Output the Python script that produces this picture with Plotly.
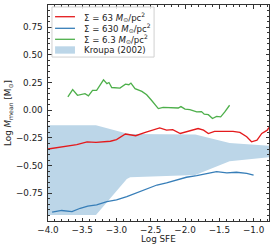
import plotly.graph_objects as go

# Kroupa (2002) band
band_x = [-4.0, -3.3, -2.85, -2.8, -1.85, -1.35, -0.775]
band_upper = [-0.135, -0.135, -0.21, -0.215, -0.22, -0.295, -0.32]
band_lower = [-0.945, -0.945, -0.62, -0.605, -0.585, -0.46, -0.425]

# Sigma = 63
red_x = [-4.0, -3.58, -3.43, -3.37, -3.3, -3.09, -3.0, -2.87, -2.78, -2.72, -2.58, -2.49,
         -2.37, -2.27, -2.18, -2.07, -1.98, -1.88, -1.81, -1.73, -1.66, -1.57, -1.45,
         -1.30, -1.2, -1.10, -1.03, -0.95, -0.88, -0.80, -0.775]
red_y = [-0.35, -0.31, -0.285, -0.29, -0.29, -0.28, -0.265, -0.215, -0.22, -0.23, -0.20, -0.18,
         -0.16, -0.18, -0.175, -0.21, -0.195, -0.18, -0.165, -0.18, -0.21, -0.19, -0.19,
         -0.19, -0.2, -0.24, -0.285, -0.27, -0.21, -0.18, -0.155]

# Sigma = 630
blue_x = [-3.94, -3.80, -3.65, -3.53, -3.42, -3.29, -3.14, -3.0, -2.85, -2.70, -2.56, -2.41,
          -2.27, -2.12, -1.98, -1.83, -1.69, -1.54, -1.39, -1.25, -1.10, -1.0]
blue_y = [-0.92, -0.905, -0.915, -0.885, -0.865, -0.855, -0.825, -0.81, -0.78, -0.745, -0.715,
          -0.675, -0.655, -0.63, -0.605, -0.59, -0.57, -0.555, -0.565, -0.56, -0.57, -0.585]

# Sigma = 6.3
green_x = [-3.71, -3.64, -3.57, -3.46, -3.41, -3.35, -3.29, -3.19, -3.14, -3.11, -3.07, -2.95,
           -2.87, -2.82, -2.79, -2.73, -2.63, -2.56, -2.49, -2.39, -2.32, -2.22, -2.10, -2.06,
           -2.0, -1.93, -1.83, -1.76, -1.72, -1.66, -1.60, -1.54, -1.48, -1.42, -1.35]
green_y = [0.12, 0.186, 0.135, 0.15, 0.13, 0.18, 0.18, 0.275, 0.24, 0.25, 0.205, 0.20,
           0.235, 0.23, 0.245, 0.195, 0.17, 0.14, 0.09, 0.015, 0.025, 0.02, 0.02, 0.033,
           0.01, 0.005, -0.015, -0.012, -0.036, -0.04, -0.075, -0.055, -0.06, -0.015, 0.045]

x_ticks = [-4.0, -3.5, -3.0, -2.5, -2.0, -1.5, -1.0]
y_ticks = [-0.75, -0.5, -0.25, 0.0, 0.25, 0.5, 0.75]

names = ["Σ = 63 <i>M</i><sub>⊙</sub>/pc<sup>2</sup>",
         "Σ = 630 <i>M</i><sub>⊙</sub>/pc<sup>2</sup>",
         "Σ = 6.3 <i>M</i><sub>⊙</sub>/pc<sup>2</sup>",
         "Kroupa (2002)"]
colors = ["#e41a1c", "#377eb8", "#4daf4a", "#bcd6e8"]

FONT = "DejaVu Sans"
TXT = "#222"
fig = go.Figure()

fig.add_trace(go.Scatter(x=band_x, y=band_lower, mode="lines", line=dict(width=0),
                         showlegend=False, hoverinfo="skip"))
fig.add_trace(go.Scatter(x=band_x, y=band_upper, mode="lines", line=dict(width=0),
                         fill="tonexty", fillcolor=colors[3], name=names[3], showlegend=False))
for xs, ys, nm, c in [(red_x, red_y, names[0], colors[0]),
                      (blue_x, blue_y, names[1], colors[1]),
                      (green_x, green_y, names[2], colors[2])]:
    fig.add_trace(go.Scatter(x=xs, y=ys, mode="lines", line=dict(color=c, width=1.3),
                             name=nm, showlegend=False))

axis_common = dict(
    showgrid=False, zeroline=False, showline=True, linecolor="#333", linewidth=1,
    mirror="allticks", ticks="inside", ticklen=3.5, tickwidth=0.8, tickcolor="#333",
    tickfont=dict(family=FONT, size=8.8, color=TXT),
)

fig.update_xaxes(range=[-4.0, -0.775], tickmode="array", tickvals=x_ticks,
                 ticktext=[f"{v:.1f}".replace("-", "−") for v in x_ticks],
                 minor=dict(ticks="inside", dtick=0.1, tick0=-4.0, ticklen=2, tickcolor="#333"),
                 **axis_common)
fig.update_yaxes(range=[-1.0, 0.95], tickmode="array", tickvals=y_ticks,
                 showticklabels=False,
                 minor=dict(ticks="inside", dtick=0.05, tick0=0, ticklen=2, tickcolor="#333"),
                 **axis_common)

# y tick labels
for v in y_ticks:
    fig.add_annotation(text=f"{v:.2f}".replace("-", "−"), xref="paper", yref="y", x=0, y=v,
                       xanchor="right", yanchor="middle", xshift=-3, showarrow=False,
                       font=dict(family=FONT, size=8.8, color=TXT))

fig.add_annotation(text="Log SFE", xref="paper", yref="paper", x=0.5, y=-0.083,
                   xanchor="center", yanchor="middle", showarrow=False,
                   font=dict(family=FONT, size=8.8, color=TXT))
fig.add_annotation(text="Log <i>M</i><sub>mean</sub> [M<sub>⊙</sub>]", xref="paper", yref="paper",
                   x=-0.181, y=0.5, xanchor="center", yanchor="middle", textangle=-90,
                   showarrow=False, font=dict(family=FONT, size=8.8, color=TXT))

# manual legend (matplotlib-style, compact)
fig.add_shape(type="rect", xref="paper", yref="paper", x0=0.018, x1=0.48, y0=0.759, y1=0.991,
              line=dict(color="#d0d0d0", width=1), fillcolor="rgba(255,255,255,0.85)",
              layer="above")
row_y = [0.9458, 0.8921, 0.8412, 0.7917]
for i in range(4):
    if i < 3:
        fig.add_shape(type="line", xref="paper", yref="paper", x0=0.032, x1=0.122,
                      y0=row_y[i], y1=row_y[i], line=dict(color=colors[i], width=1.3),
                      layer="above")
    else:
        fig.add_shape(type="rect", xref="paper", yref="paper", x0=0.032, x1=0.122,
                      y0=row_y[i] - 0.017, y1=row_y[i] + 0.017, line=dict(width=0),
                      fillcolor=colors[i], layer="above")
    fig.add_annotation(text=names[i], xref="paper", yref="paper", x=0.155, y=row_y[i],
                       xanchor="left", yanchor="middle", showarrow=False,
                       font=dict(family=FONT, size=8.6, color=TXT))

fig.update_layout(
    width=274, height=249,
    margin=dict(l=48, r=5, t=5, b=28),
    plot_bgcolor="white", paper_bgcolor="white",
    font=dict(family=FONT, size=9, color=TXT),
    showlegend=False,
)

fig.write_html(
    "out.html", config={"displayModeBar": False},
    post_script="document.body.style.margin='0';document.body.style.padding='0';")
